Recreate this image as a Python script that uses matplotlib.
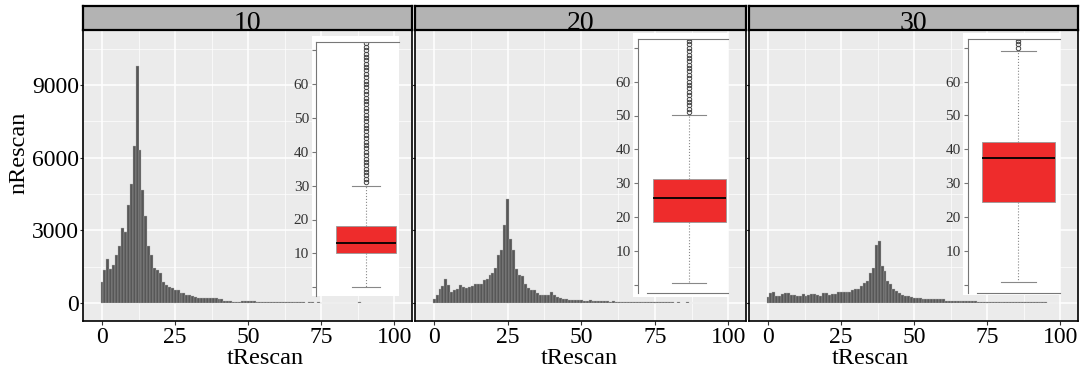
import matplotlib.pyplot as plt
from matplotlib.patches import Rectangle

plt.rcParams['font.family'] = ['Liberation Serif', 'DejaVu Serif']

# Daten: Histogramm (Balken je tRescan-Wert 0..99) fuer die Facetten 10, 20, 30
facets = ['10', '20', '30']
t_bins = list(range(100))

n_10 = [870, 1380, 1800, 1400, 1560, 1970, 2350, 3110, 2930, 4050,
        4930, 6470, 9790, 6330, 4680, 3590, 2360, 2000, 1450, 1380,
        1250, 870, 760, 660, 620, 550, 520, 430, 420, 345,
        320, 290, 250, 220, 210, 200, 220, 220, 220, 220,
        180, 165, 100, 100, 100, 60, 60, 60, 100, 90,
        85, 80, 70, 60, 60, 50, 60, 50, 40, 50,
        40, 60, 40, 40, 30, 40, 30, 30, 25, 30,
        20, 25, 30, 20, 25, 20, 15, 20, 0, 15,
        20, 0, 15, 15, 0, 10, 15, 0, 25, 20,
        0, 15, 0, 20, 0, 0, 10, 0, 0, 0]

n_20 = [180, 320, 590, 690, 990, 760, 455, 525, 590, 730,
        660, 620, 660, 690, 770, 770, 800, 940, 990, 1140,
        1250, 1450, 1970, 2180, 3210, 4310, 2660, 2180, 1420, 1140,
        1110, 770, 620, 525, 525, 430, 345, 345, 345, 345,
        440, 345, 250, 210, 180, 150, 140, 140, 130, 130,
        110, 100, 100, 110, 90, 90, 80, 80, 70, 80,
        60, 70, 60, 60, 50, 60, 50, 50, 40, 50,
        40, 40, 30, 40, 30, 30, 40, 30, 30, 25,
        30, 25, 20, 30, 20, 20, 25, 20, 0, 20,
        20, 0, 15, 20, 0, 15, 0, 0, 0, 0]

n_30 = [250, 430, 470, 300, 300, 370, 400, 400, 330, 330,
        300, 300, 370, 300, 340, 370, 355, 330, 270, 400,
        400, 330, 370, 355, 440, 440, 440, 440, 440, 550,
        580, 580, 715, 830, 920, 1230, 1430, 2400, 2570, 1540,
        1310, 900, 790, 580, 480, 400, 340, 300, 275, 230,
        210, 210, 210, 180, 180, 180, 150, 150, 150, 150,
        150, 95, 95, 95, 95, 95, 95, 95, 80, 80,
        80, 80, 60, 60, 60, 60, 60, 50, 50, 50,
        50, 50, 40, 40, 40, 40, 40, 30, 30, 30,
        30, 30, 30, 25, 25, 25, 20, 20, 20, 20]

counts = [n_10, n_20, n_30]

# Boxplot-Kennzahlen der Einschuebe
box_q1 = [10, 18.5, 24.5]
box_med = [13, 25.5, 37.3]
box_q3 = [18, 31.3, 42.1]
box_lo = [0, 0.6, 0.8]
box_hi = [30, 50.2, 68.9]
flier_start = [31, 51, 70]   # Ausreisser: jeder ganzzahlige Wert ab hier bis 100

x_ticks = [0, 25, 50, 75, 100]
y_ticks = [0, 3000, 6000, 9000]
inset_ticks = [0, 10, 20, 30, 40, 50, 60, 70]
inset_labels = ['', '10', '20', '30', '40', '50', '60', '']

W, H = 1084, 374


def px(l, t, r, b):
    return [l / W, 1 - b / H, (r - l) / W, (b - t) / H]


fig = plt.figure(figsize=(W / 100, H / 100), dpi=100)

panels = [(83, 412), (415, 746), (749, 1078)]
white_bg = [(312, 36, 399, 296), (633, 33, 728, 297), (963, 33, 1060, 295)]
inset_rect = [(316, 41.7, 399, 295.7), (637.7, 39.3, 728, 293.3), (967.7, 39.3, 1060, 293)]
inset_xlim = [(0.4, 1.4), (0.43, 1.43), (0.45, 1.45)]
box_w = [0.72, 0.81, 0.79]
cap_w = [0.34, 0.37, 0.37]
xlab_x = [265, 579, 870]

for i, (l, r) in enumerate(panels):
    ax = fig.add_axes(px(l, 30, r, 321))
    ax.set_facecolor('#ebebeb')
    ax.bar(t_bins, counts[i], width=1, color='#575757', edgecolor='#b5b5b5', linewidth=0.25)
    ax.set_xlim(-6.5, 106)
    ax.set_ylim(-744, 11281)
    ax.set_xticks(x_ticks)
    ax.set_xticks([12.5, 37.5, 62.5, 87.5], minor=True)
    ax.set_yticks(y_ticks)
    ax.set_yticks([1500, 4500, 7500, 10500], minor=True)
    ax.grid(which='major', color='white', linewidth=1.1)
    ax.grid(which='minor', color='white', linewidth=0.5)
    ax.set_axisbelow(True)
    ax.tick_params(which='minor', length=0)
    ax.tick_params(axis='x', labelsize=17, length=3, pad=1, color='#333333')
    ax.tick_params(axis='y', labelsize=17, length=2, pad=1, color='#333333')
    if i > 0:
        ax.tick_params(axis='y', labelleft=False)
    for s in ax.spines.values():
        s.set_color('black')
        s.set_linewidth(1.2)
    ax.spines['top'].set_visible(False)

    # Streifen mit Facettenname
    sax = fig.add_axes(px(l, 6, r, 30))
    sax.set_facecolor('#b3b3b3')
    sax.set_xticks([])
    sax.set_yticks([])
    for s in sax.spines.values():
        s.set_color('black')
        s.set_linewidth(1.6)
    sax.text(0.5, 0.0, facets[i], ha='center', va='baseline', fontsize=20,
             transform=sax.transAxes, clip_on=False)

    fig.text(xlab_x[i] / W, 1 - 358 / H, 'tRescan', ha='center', va='center', fontsize=17.5)

    # weisser Hintergrund des Einschubs
    bl, bt, br, bb = white_bg[i]
    fig.add_artist(Rectangle((bl / W, 1 - bb / H), (br - bl) / W, (bb - bt) / H,
                             transform=fig.transFigure, facecolor='white',
                             edgecolor='none', zorder=2))

    # Boxplot-Einschub
    iax = fig.add_axes(px(*inset_rect[i]))
    iax.set_zorder(3)
    iax.patch.set_alpha(0)
    stats = dict(med=box_med[i], q1=box_q1[i], q3=box_q3[i],
                 whislo=box_lo[i], whishi=box_hi[i],
                 fliers=list(range(flier_start[i], 101)))
    iax.bxp([stats], positions=[1], widths=[box_w[i]], capwidths=[cap_w[i]],
            patch_artist=True,
            boxprops=dict(facecolor='#ee2c2c', edgecolor='#999999', linewidth=0.6),
            medianprops=dict(color='black', linewidth=1.3),
            whiskerprops=dict(color='#888888', linestyle=':', linewidth=0.8),
            capprops=dict(color='#888888', linewidth=0.8),
            flierprops=dict(marker='o', markersize=3.2, markerfacecolor='none',
                            markeredgecolor='#444444', markeredgewidth=0.7))
    iax.set_xlim(*inset_xlim[i])
    iax.set_ylim(-2.5, 72.5)
    iax.set_xticks([])
    iax.set_yticks(inset_ticks)
    iax.set_yticklabels(inset_labels)
    iax.tick_params(axis='y', labelsize=11, length=3, pad=2, color='#777777',
                    labelcolor='#333333')
    iax.spines['right'].set_visible(False)
    for side in ['left', 'top', 'bottom']:
        iax.spines[side].set_color('#777777')
        iax.spines[side].set_linewidth(0.8)
    if i == 0:
        iax.spines['bottom'].set_visible(False)
    else:
        lo = inset_xlim[i][0] + 0.1
        iax.spines['bottom'].set_bounds(lo, inset_xlim[i][1])

fig.text(19 / W, 1 - 153 / H, 'nRescan', rotation=90, ha='center', va='center', fontsize=17.5)

plt.savefig('out.png', dpi=100)
